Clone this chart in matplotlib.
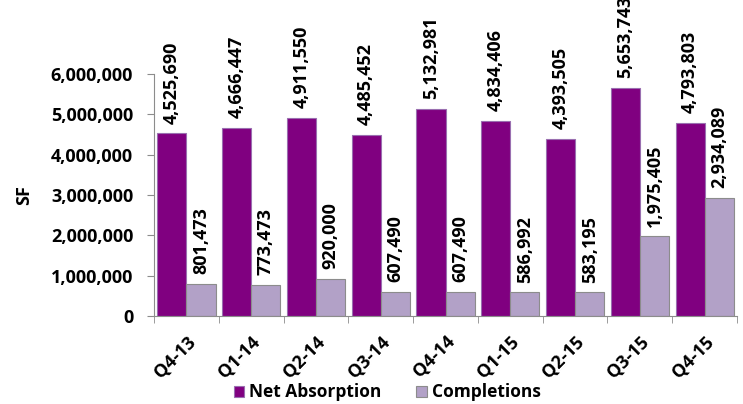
import numpy as np
import matplotlib.pyplot as plt
from matplotlib.ticker import FuncFormatter

quarters = ["Q4-13", "Q1-14", "Q2-14", "Q3-14", "Q4-14", "Q1-15", "Q2-15", "Q3-15", "Q4-15"]
net_absorption = [4525690, 4666447, 4911550, 4485452, 5132981, 4834406, 4393505, 5653743, 4793803]
completions = [801473, 773473, 920000, 607490, 607490, 586992, 583195, 1975405, 2934089]

plt.rcParams['font.family'] = ['Open Sans', 'DejaVu Sans']
plt.rcParams['font.weight'] = 'bold'
fs = 13

fig = plt.figure(figsize=(7.43, 4.04), dpi=100)
ax = fig.add_axes([0.2073, 0.2178, 0.7847, 0.599])

x = np.arange(len(quarters))
w = 0.45
b1 = ax.bar(x - w / 2, net_absorption, w, color="#800080", edgecolor="#9a6fb0", linewidth=0.8, label="Net Absorption")
b2 = ax.bar(x + w / 2, completions, w, color="#B2A1C7", edgecolor="#8c8c8c", linewidth=0.8, label="Completions")

for bars, vals in ((b1, net_absorption), (b2, completions)):
    for r, v in zip(bars, vals):
        ax.annotate(f"{v:,}", (r.get_x() + r.get_width() / 2, v), xytext=(0, 7),
                    textcoords="offset points", rotation=90, ha="center", va="bottom",
                    fontsize=fs, fontweight="bold", annotation_clip=False)

ax.set_xlim(-0.5, len(quarters) - 0.5)
ax.set_ylim(0, 6000000)
ax.set_yticks(np.arange(0, 6000001, 1000000))
ax.yaxis.set_major_formatter(FuncFormatter(lambda v, p: f"{int(v):,}"))
ax.set_xticks(x)
ax.set_xticklabels(quarters, rotation=45, ha="right", rotation_mode="anchor", fontsize=fs, fontweight="bold")
ax.set_xticks(np.arange(-0.5, len(quarters)), minor=True)
ax.tick_params(axis="x", which="major", length=0, pad=12)
ax.tick_params(axis="x", which="minor", length=5, color="#8c8c8c")
ax.tick_params(axis="y", length=5, color="#8c8c8c", labelsize=fs, pad=10)
for lab in ax.get_yticklabels():
    lab.set_fontweight("bold")
ax.set_ylabel("SF", fontsize=fs, fontweight="bold", labelpad=13)

for s in ("top", "right"):
    ax.spines[s].set_visible(False)
for s in ("left", "bottom"):
    ax.spines[s].set_color("#8c8c8c")

ax.legend(loc="center", bbox_to_anchor=(0.40, -0.316), ncol=2, frameon=False,
          handlelength=0.6, handleheight=0.6, columnspacing=2.0, handletextpad=0.3,
          prop={"weight": "bold", "size": 12.5})

fig.savefig("out.png", dpi=100)
